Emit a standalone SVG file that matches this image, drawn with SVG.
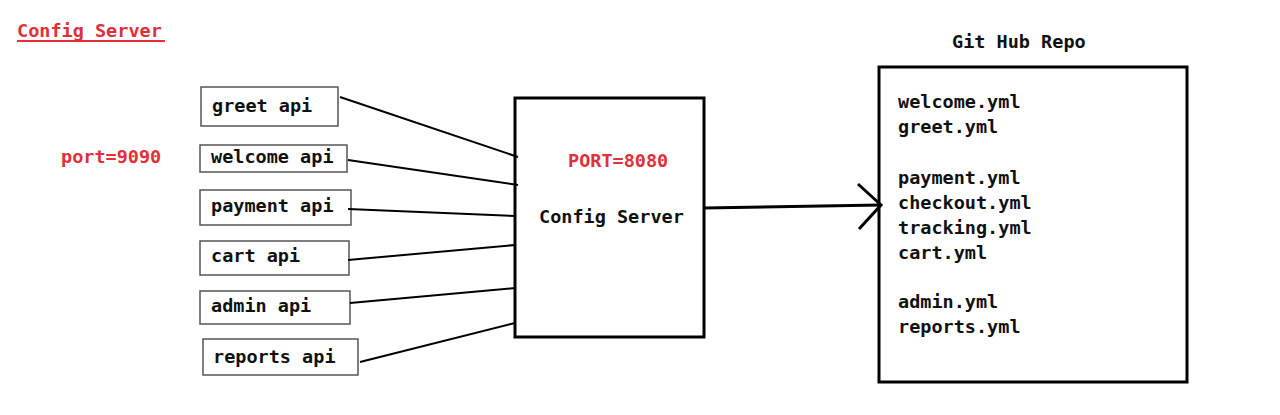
<svg xmlns="http://www.w3.org/2000/svg" width="1280" height="415" viewBox="0 0 1280 415">
<style>
text{font-family:"DejaVu Sans Mono","Liberation Mono",monospace;font-weight:bold;font-size:18.5px;fill:#111}
.red{fill:#e0303a}
.api{fill:#fff;stroke:#555;stroke-width:1.5}
.big{fill:#fff;stroke:#000;stroke-width:3}
.conn{stroke:#000;stroke-width:2;fill:none}
</style>
<rect width="1280" height="415" fill="#fff"/>
<g id="title">
<text x="17" y="37" class="red">Config Server</text>
<line x1="17" y1="41" x2="165" y2="41" stroke="#e0303a" stroke-width="2"/>
</g>
<g id="port9090"><text x="61" y="163" class="red">port=9090</text></g>
<g id="greet"><rect class="api" x="201" y="87" width="137" height="39"/><text x="212" y="112">greet api</text></g>
<g id="welcome"><rect class="api" x="200" y="145" width="147" height="27"/><text x="211" y="163">welcome api</text></g>
<g id="payment"><rect class="api" x="200" y="190" width="151" height="35"/><text x="211" y="212">payment api</text></g>
<g id="cart"><rect class="api" x="200" y="241" width="149" height="34"/><text x="211" y="262">cart api</text></g>
<g id="admin"><rect class="api" x="200" y="291" width="150" height="33"/><text x="211" y="312">admin api</text></g>
<g id="reports"><rect class="api" x="203" y="339" width="155" height="36"/><text x="213" y="363">reports api</text></g>
<g id="config-server">
<rect class="big" x="515" y="98" width="189" height="239"/>
<text x="568" y="167" class="red">PORT=8080</text>
<text x="539" y="223">Config Server</text>
</g>
<g id="github-title"><text x="952" y="48">Git Hub Repo</text></g>
<g id="github-repo">
<rect class="big" x="879" y="67" width="308" height="315"/>
<text x="898" y="108">welcome.yml</text>
<text x="898" y="133">greet.yml</text>
<text x="898" y="184">payment.yml</text>
<text x="898" y="209">checkout.yml</text>
<text x="898" y="234">tracking.yml</text>
<text x="898" y="259">cart.yml</text>
<text x="898" y="308">admin.yml</text>
<text x="898" y="333">reports.yml</text>
</g>
<g id="connectors">
<line class="conn" x1="340" y1="97" x2="518" y2="157"/>
<line class="conn" x1="348" y1="160" x2="518" y2="185"/>
<line class="conn" x1="348" y1="209" x2="515" y2="216"/>
<line class="conn" x1="348" y1="260" x2="515" y2="245"/>
<line class="conn" x1="350" y1="303" x2="515" y2="288"/>
<line class="conn" x1="360" y1="362" x2="515" y2="323"/>
<line x1="704" y1="208" x2="881" y2="205" stroke="#000" stroke-width="3"/>
<polyline points="858,184 881,205 859,229" fill="none" stroke="#000" stroke-width="3"/>
</g>
</svg>
